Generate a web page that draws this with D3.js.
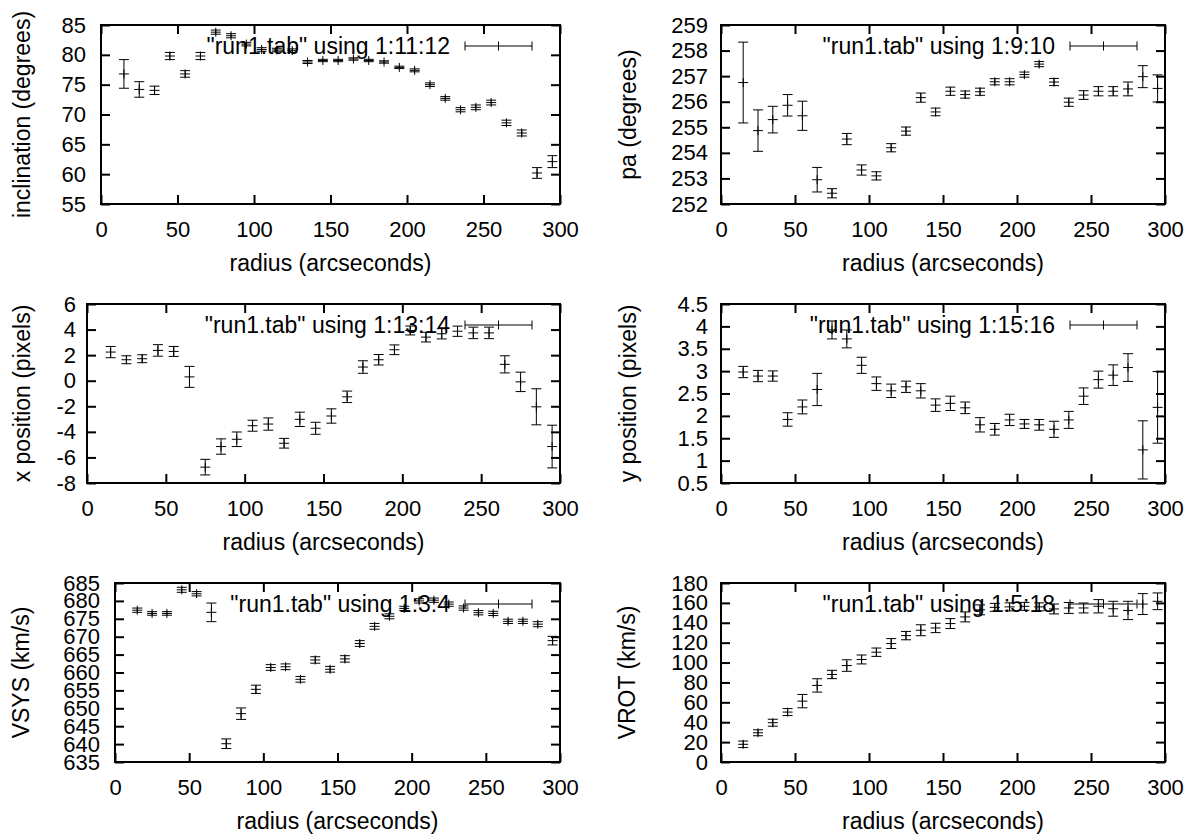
<!DOCTYPE html>
<html>
<head>
<meta charset="utf-8">
<script src="https://cdn.jsdelivr.net/npm/d3@7/dist/d3.min.js"></script>
<style>
  body { margin: 0; background: #fff; }
  svg text { font-family: "Liberation Sans", Arial, Helvetica, sans-serif; font-size: 23px; fill: #000; }
  svg .tick text { font-size: 22px; }
</style>
</head>
<body>
<svg id="chart" width="1198" height="835"></svg>
<script>
// ---- data (radius in arcseconds, value, error) ----
const radius = [15, 25, 35, 45, 55, 65, 75, 85, 95, 105, 115, 125, 135, 145, 155,
                165, 175, 185, 195, 205, 215, 225, 235, 245, 255, 265, 275, 285, 295];

const inclination    = [76.8, 74.2, 74.05, 79.8, 76.8, 79.8, 83.8, 83.2, 81.8, 80.9, 80.8, 80.7, 78.8, 79.05, 79.05,
                        79.3, 79.05, 78.8, 77.9, 77.4, 75.0, 72.7, 70.8, 71.2, 72.0, 68.6, 66.9, 60.2, 62.1];
const inclinationErr = [2.4, 1.3, 0.7, 0.6, 0.55, 0.6, 0.35, 0.35, 0.3, 0.3, 0.3, 0.3, 0.25, 0.2, 0.2,
                        0.2, 0.2, 0.2, 0.2, 0.25, 0.3, 0.3, 0.35, 0.4, 0.4, 0.45, 0.5, 0.9, 1.0];

const pa    = [256.75, 254.87, 255.3, 255.86, 255.45, 252.95, 252.42, 254.54, 253.33, 253.1, 254.2, 254.85, 256.16, 255.6, 256.41,
               256.28, 256.39, 256.78, 256.78, 257.06, 257.47, 256.77, 255.98, 256.26, 256.41, 256.41, 256.5, 256.98, 256.52];
const paErr = [1.58, 0.81, 0.52, 0.42, 0.57, 0.48, 0.18, 0.22, 0.2, 0.16, 0.16, 0.16, 0.18, 0.15, 0.16,
               0.14, 0.14, 0.12, 0.12, 0.1, 0.1, 0.14, 0.16, 0.17, 0.18, 0.18, 0.27, 0.43, 0.53];

const xPosition    = [2.24, 1.64, 1.72, 2.37, 2.29, 0.30, -6.76, -5.15, -4.58, -3.52, -3.39, -4.89, -3.02, -3.72, -2.76,
                      -1.26, 1.07, 1.64, 2.42, 3.93, 3.41, 3.67, 3.87, 3.74, 3.74, 1.28, -0.09, -2.04, -5.15];
const xPositionErr = [0.44, 0.31, 0.31, 0.45, 0.39, 0.82, 0.61, 0.6, 0.57, 0.43, 0.48, 0.38, 0.56, 0.47, 0.56,
                      0.45, 0.49, 0.41, 0.38, 0.35, 0.38, 0.4, 0.4, 0.45, 0.45, 0.67, 0.76, 1.41, 1.67];

const yPosition    = [2.98, 2.89, 2.89, 1.92, 2.2, 2.59, 3.92, 3.72, 3.13, 2.72, 2.56, 2.65, 2.56, 2.24, 2.28,
                      2.18, 1.80, 1.70, 1.91, 1.82, 1.80, 1.70, 1.91, 2.44, 2.81, 2.91, 3.08, 1.24, 2.19];
const yPositionErr = [0.126, 0.126, 0.115, 0.15, 0.155, 0.36, 0.2, 0.2, 0.18, 0.15, 0.15, 0.126, 0.16, 0.14, 0.16,
                      0.13, 0.16, 0.13, 0.126, 0.1, 0.12, 0.18, 0.19, 0.185, 0.19, 0.23, 0.31, 0.65, 0.8];

const vsys    = [677.4, 676.5, 676.5, 683.1, 682.0, 676.8, 640.1, 648.5, 655.3, 661.4, 661.6, 658.1, 663.5, 660.9, 663.8,
                 668.1, 672.9, 675.7, 677.9, 680.0, 680.2, 679.1, 678.0, 676.7, 676.5, 674.3, 674.3, 673.5, 668.9];
const vsysErr = [0.6, 0.5, 0.5, 0.7, 0.6, 2.6, 1.35, 1.6, 1.15, 0.8, 0.8, 0.8, 0.9, 0.8, 0.9,
                 0.8, 0.8, 0.7, 0.6, 0.6, 0.6, 0.6, 0.6, 0.6, 0.6, 0.6, 0.6, 0.7, 1.2];

const vrot    = [17.8, 29.4, 39.5, 50.2, 61.2, 77.0, 88.0, 97.0, 103.1, 110.4, 119.1, 127.1, 132.5, 134.8, 139.2,
                 145.9, 153.0, 155.5, 156.0, 156.5, 156.0, 153.9, 154.9, 154.9, 156.6, 154.1, 152.4, 158.8, 161.6];
const vrotErr = [3.3, 3.0, 3.5, 3.5, 6.7, 6.7, 4.2, 5.8, 4.5, 4.2, 5.0, 4.2, 5.5, 4.7, 5.0,
                 5.0, 5.0, 4.0, 4.0, 4.0, 4.0, 5.0, 5.5, 5.0, 6.7, 7.5, 9.2, 10.5, 8.4];

// ---- tick values ----
const radiusTicks      = [0, 50, 100, 150, 200, 250, 300];
const inclinationTicks = [55, 60, 65, 70, 75, 80, 85];
const paTicks          = [252, 253, 254, 255, 256, 257, 258, 259];
const xPositionTicks   = [-8, -6, -4, -2, 0, 2, 4, 6];
const yPositionTicks   = [0.5, 1, 1.5, 2, 2.5, 3, 3.5, 4, 4.5];
const vsysTicks        = [635, 640, 645, 650, 655, 660, 665, 670, 675, 680, 685];
const vrotTicks        = [0, 20, 40, 60, 80, 100, 120, 140, 160, 180];

const xTitle = 'radius (arcseconds)';

// one entry per multiplot cell
const panels = [
  {values: inclination, errors: inclinationErr, ticks: inclinationTicks, title: 'inclination (degrees)',
   key: '"run1.tab" using 1:11:12', box: {left: 101, right: 560, top: 25, bottom: 204}, titleX: 22, gap: 15},
  {values: pa, errors: paErr, ticks: paTicks, title: 'pa (degrees)',
   key: '"run1.tab" using 1:9:10', box: {left: 721, right: 1165, top: 25, bottom: 204}, titleX: 628, gap: 13},
  {values: xPosition, errors: xPositionErr, ticks: xPositionTicks, title: 'x position (pixels)',
   key: '"run1.tab" using 1:13:14', box: {left: 87, right: 560, top: 304, bottom: 483}, titleX: 22, gap: 11},
  {values: yPosition, errors: yPositionErr, ticks: yPositionTicks, title: 'y position (pixels)',
   key: '"run1.tab" using 1:15:16', box: {left: 721, right: 1165, top: 304, bottom: 483}, titleX: 628, gap: 13},
  {values: vsys, errors: vsysErr, ticks: vsysTicks, title: 'VSYS (km/s)',
   key: '"run1.tab" using 1:3:4', box: {left: 115, right: 560, top: 583, bottom: 762}, titleX: 21, gap: 15},
  {values: vrot, errors: vrotErr, ticks: vrotTicks, title: 'VROT (km/s)',
   key: '"run1.tab" using 1:5:18', box: {left: 721, right: 1165, top: 583, bottom: 762}, titleX: 627, gap: 13}
];

const svg = d3.select('#chart');
const TIC = 9;      // inward tick length
const BAR = 5;      // half width of error bar caps and of the '+' point
const PLUS = 4.5;   // half height of the '+' point

function drawPanel(p) {
  const b = p.box;
  const x = d3.scaleLinear().domain([0, 300]).range([b.left, b.right]);
  const y = d3.scaleLinear().domain(d3.extent(p.ticks)).range([b.bottom, b.top]);
  const g = svg.append('g');

  // axes: ticks pointing inwards on all four sides (gnuplot mirror)
  const axes = [
    {axis: d3.axisBottom(x).tickValues(radiusTicks).tickFormat(String).tickPadding(17.5), at: `translate(0,${b.bottom})`},
    {axis: d3.axisTop(x).tickValues(radiusTicks).tickFormat(''), at: `translate(0,${b.top})`},
    {axis: d3.axisLeft(y).tickValues(p.ticks).tickFormat(String).tickPadding(p.gap), at: `translate(${b.left},0)`},
    {axis: d3.axisRight(y).tickValues(p.ticks).tickFormat(''), at: `translate(${b.right},0)`}
  ];
  axes.forEach(a => {
    const ag = g.append('g').attr('transform', a.at)
      .call(a.axis.tickSizeInner(-TIC).tickSizeOuter(0));
    ag.select('.domain').remove();
    ag.selectAll('line').attr('stroke', '#000').attr('stroke-width', 2);
    ag.attr('font-size', null).attr('font-family', null);
  });
  g.selectAll('.tick text').attr('fill', '#000');

  // border
  g.append('rect')
    .attr('x', b.left).attr('y', b.top)
    .attr('width', b.right - b.left).attr('height', b.bottom - b.top)
    .attr('fill', 'none').attr('stroke', '#000').attr('stroke-width', 2);

  // axis titles
  g.append('text')
    .attr('x', (b.left + b.right) / 2).attr('y', b.bottom + 67)
    .attr('text-anchor', 'middle').text(xTitle);
  g.append('text')
    .attr('transform', `translate(${p.titleX},${(b.top + b.bottom) / 2}) rotate(-90)`)
    .attr('text-anchor', 'middle').attr('dy', '0.35em').text(p.title);

  // key (top right): text + errorbar sample
  const ky = b.top + 21, kx2 = b.right - 28, kx1 = kx2 - 67, km = (kx1 + kx2) / 2;
  g.append('text').attr('x', kx1 - 15).attr('y', ky).attr('dy', '0.35em')
    .attr('text-anchor', 'end').text(p.key);
  g.append('path')
    .attr('fill', 'none').attr('stroke', '#000').attr('stroke-width', 1)
    .attr('d', `M${kx1},${ky}H${kx2}M${kx1},${ky - 4.5}V${ky + 4.5}M${kx2},${ky - 4.5}V${ky + 4.5}` +
               `M${km},${ky - PLUS}V${ky + PLUS}`);

  // points with error bars
  const pts = radius.map((r, i) => ({r: r, v: p.values[i], e: p.errors[i]}));
  g.append('g').selectAll('path').data(pts).join('path')
    .attr('fill', 'none').attr('stroke', '#000').attr('stroke-width', 1)
    .attr('d', d => {
      const cx = x(d.r), cy = y(d.v), hi = y(d.v + d.e), lo = y(d.v - d.e);
      return `M${cx},${hi}V${lo}` +
             `M${cx - BAR},${hi}H${cx + BAR}M${cx - BAR},${lo}H${cx + BAR}` +
             `M${cx - BAR},${cy}H${cx + BAR}M${cx},${cy - PLUS}V${cy + PLUS}`;
    });
}

panels.forEach(drawPanel);
</script>
</body>
</html>
